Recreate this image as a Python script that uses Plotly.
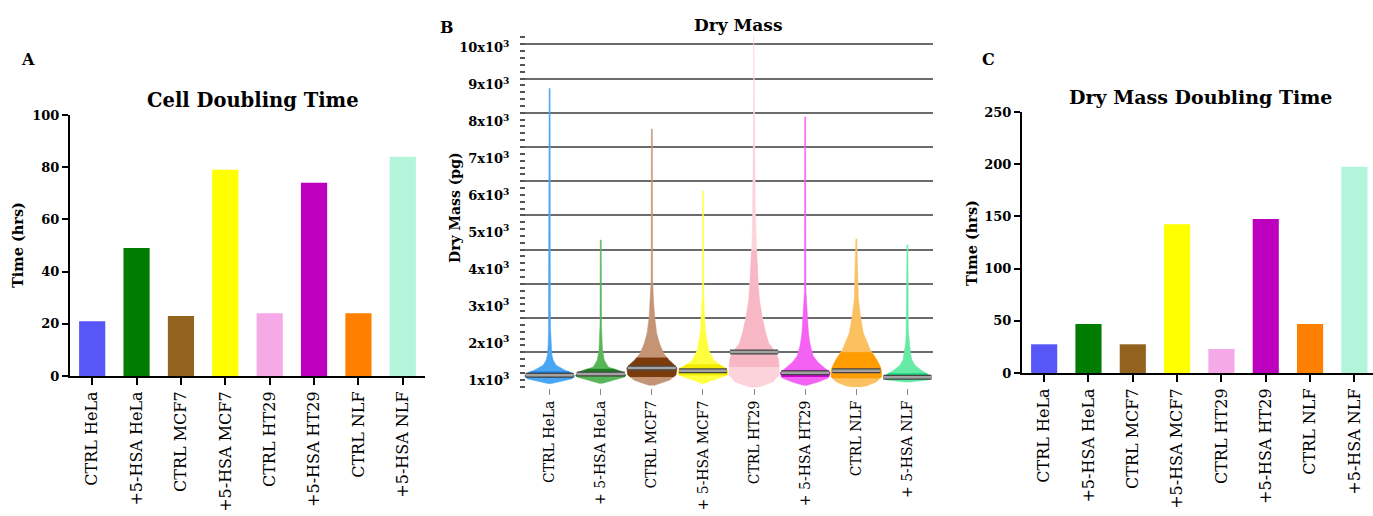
import numpy as np
import plotly.graph_objects as go

# ---------------- data ----------------
bar_labels = ["CTRL HeLa", "+5-HSA HeLa", "CTRL MCF7", "+5-HSA MCF7",
              "CTRL HT29", "+5-HSA HT29", "CTRL NLF", "+5-HSA NLF"]
violin_labels = ["CTRL HeLa", "+ 5-HSA HeLa", "CTRL MCF7", "+ 5-HSA MCF7",
                 "CTRL HT29", "+ 5-HSA HT29", "CTRL NLF", "+ 5-HSA NLF"]

cell_doubling_hrs = [21, 49, 23, 79, 24, 74, 24, 84]
drymass_doubling_hrs = [27.5, 47, 27.5, 142.5, 23, 147.5, 47, 197.5]

bar_colors = ["#5757f8", "#007c00", "#93621f", "#ffff00",
              "#f5a9e6", "#bd00bd", "#ff8000", "#b3f5db"]

# dry mass distributions (pg): levels and relative density
hela_ctrl_mass = [900, 930, 975, 1030, 1110, 1190, 1270, 1400, 1540, 1680, 1950, 2250, 2400, 3000, 6000, 8900]
hela_ctrl_dens = [0.04, 0.2, 0.52, 0.88, 1.0, 0.88, 0.6, 0.26, 0.14, 0.09, 0.06, 0.05, 0.035, 0.028, 0.025, 0.02]
hela_hsa_mass = [905, 920, 1000, 1081, 1135, 1217, 1271, 1352, 1542, 1813, 2100, 2350, 2500, 4794]
hela_hsa_dens = [0.04, 0.12, 0.52, 0.96, 1.0, 0.88, 0.64, 0.3, 0.14, 0.07, 0.05, 0.045, 0.03, 0.02]
mcf7_ctrl_mass = [850, 919, 1000, 1135, 1325, 1407, 1542, 1732, 2000, 2274, 2707, 3168, 3450, 3700, 7800]
mcf7_ctrl_dens = [0.08, 0.4, 0.72, 0.96, 1.0, 0.9, 0.68, 0.46, 0.3, 0.19, 0.11, 0.065, 0.045, 0.03, 0.02]
mcf7_hsa_mass = [900, 973, 1054, 1135, 1252, 1325, 1407, 1542, 1813, 2274, 2707, 3050, 3300, 6122]
mcf7_hsa_dens = [0.04, 0.28, 0.68, 0.96, 1.0, 0.9, 0.68, 0.42, 0.23, 0.11, 0.065, 0.045, 0.03, 0.02]
ht29_ctrl_mass = [800, 810, 946, 1135, 1352, 1596, 1813, 2000, 2274, 2707, 3168, 3630, 4523, 5000, 5690, 7960, 10350]
ht29_ctrl_dens = [0.04, 0.2, 0.76, 1.0, 1.0, 0.96, 0.78, 0.58, 0.46, 0.32, 0.21, 0.16, 0.1, 0.07, 0.045, 0.025, 0.015]
ht29_hsa_mass = [850, 865, 946, 1054, 1198, 1325, 1477, 1650, 1949, 2274, 2707, 3168, 3400, 8127]
ht29_hsa_dens = [0.04, 0.12, 0.52, 0.92, 1.0, 0.78, 0.52, 0.32, 0.2, 0.13, 0.08, 0.045, 0.03, 0.02]
nlf_ctrl_mass = [810, 838, 946, 1081, 1252, 1352, 1542, 1813, 2274, 2707, 3168, 3790, 4400, 4821]
nlf_ctrl_dens = [0.12, 0.4, 0.8, 1.0, 1.0, 0.96, 0.82, 0.56, 0.28, 0.17, 0.085, 0.055, 0.03, 0.02]
nlf_hsa_mass = [940, 960, 1000, 1054, 1100, 1160, 1271, 1400, 1542, 1700, 2000, 2200, 2400, 4658]
nlf_hsa_dens = [0.04, 0.32, 0.8, 0.96, 0.94, 0.8, 0.54, 0.3, 0.18, 0.13, 0.07, 0.055, 0.035, 0.02]

mass_medians = [1127, 1163, 1325, 1252, 1759, 1198, 1252, 1073]
mass_q1 = [1060, 1100, 1080, 1120, 1352, 1080, 1050, 1000]
mass_q3 = [1230, 1300, 1600, 1420, 4500, 1260, 1750, 1180]

mass_ticks = [1000, 2000, 3000, 4000, 5000, 6000, 7000, 8000, 9000, 10000]
mass_ticktext = ["%dx10<sup>3</sup>" % (v // 1000) for v in mass_ticks]

violin_main = ["#4aa6f5", "#58b558", "#c49474", "#ffff40", "#fcd3db", "#f462f4", "#fbc060", "#66eba6"]
violin_iqr = ["#1f80d8", "#1f7f1f", "#7b3b0c", "#f4ec00", "#f8b7c4", "#d000d0", "#ff9d00", "#1ed97f"]

profiles = [(hela_ctrl_mass, hela_ctrl_dens), (hela_hsa_mass, hela_hsa_dens),
            (mcf7_ctrl_mass, mcf7_ctrl_dens), (mcf7_hsa_mass, mcf7_hsa_dens),
            (ht29_ctrl_mass, ht29_ctrl_dens), (ht29_hsa_mass, ht29_hsa_dens),
            (nlf_ctrl_mass, nlf_ctrl_dens), (nlf_hsa_mass, nlf_hsa_dens)]

# ---------------- layout helpers ----------------
W, H = 1373, 516
FONT = "DejaVu Serif"


def px(x):
    return x / W


def py(y):
    return 1 - y / H


fig = go.Figure()

# Panel A bars
fig.add_trace(go.Bar(x=bar_labels, y=cell_doubling_hrs, marker=dict(color=bar_colors, line=dict(width=0)),
                     width=0.59, xaxis="x", yaxis="y", showlegend=False, hoverinfo="x+y"))
# Panel C bars
fig.add_trace(go.Bar(x=bar_labels, y=drymass_doubling_hrs, marker=dict(color=bar_colors, line=dict(width=0)),
                     width=0.59, xaxis="x3", yaxis="y4", showlegend=False, hoverinfo="x+y"))

# Panel B violins
HALF = 0.49
for i, (m, d) in enumerate(profiles):
    m = np.array(m, dtype=float)
    d = np.array(d, dtype=float) * HALF
    xs = np.concatenate([i + d, (i - d)[::-1]])
    ys = np.concatenate([m, m[::-1]])
    fig.add_trace(go.Scatter(x=xs, y=ys, mode="lines", fill="toself", fillcolor=violin_main[i],
                             line=dict(color=violin_main[i], width=0.5), xaxis="x2", yaxis="y2",
                             showlegend=False, hoverinfo="skip"))
    inside = (m > mass_q1[i]) & (m < mass_q3[i])
    mm = np.concatenate([[mass_q1[i]], m[inside], [mass_q3[i]]])
    dd = np.interp(mm, m, d)
    fig.add_trace(go.Scatter(x=np.concatenate([i + dd, (i - dd)[::-1]]), y=np.concatenate([mm, mm[::-1]]),
                             mode="lines", fill="toself", fillcolor=violin_iqr[i],
                             line=dict(color=violin_iqr[i], width=0.4), xaxis="x2", yaxis="y2",
                             showlegend=False, hoverinfo="skip"))
    for col, lw in (("#454545", 5), ("#a3a3a3", 2.5)):
        fig.add_trace(go.Scatter(x=[i - 0.47, i + 0.47], y=[mass_medians[i]] * 2, mode="lines",
                                 line=dict(color=col, width=lw), xaxis="x2", yaxis="y2",
                                 showlegend=False, hoverinfo="skip"))

# dummy trace to activate grid overlay axis
fig.add_trace(go.Scatter(x=[None], y=[None], xaxis="x2", yaxis="y3", showlegend=False, hoverinfo="skip"))

tick_bold = dict(family=FONT, size=13, color="black", weight="bold")
xlab_font = dict(family=FONT, size=16, color="black")
xlab_font_b = dict(family=FONT, size=14, color="black")

fig.update_layout(
    template="none",
    width=W, height=H, autosize=False, margin=dict(l=0, r=0, t=0, b=0, pad=0),
    paper_bgcolor="white", plot_bgcolor="rgba(0,0,0,0)", showlegend=False,
    xaxis=dict(domain=[px(70), px(425)], range=[-0.5, 7.5], showline=True, linecolor="black", linewidth=2,
               ticks="outside", ticklen=7, tickwidth=2, tickcolor="black", tickangle=-90, tickfont=xlab_font,
               showgrid=False, zeroline=False, anchor="y", automargin=False),
    yaxis=dict(domain=[py(376), py(115)], range=[0, 100], tickvals=[0, 20, 40, 60, 80, 100],
               showline=True, linecolor="black", linewidth=2, ticks="outside", ticklen=6, tickwidth=2,
               tickcolor="black", tickfont=tick_bold, showgrid=False, zeroline=False, anchor="x",
               automargin=False),
    xaxis2=dict(domain=[px(520), px(933)], range=[-0.58, 7.5], tickvals=list(range(8)), ticktext=violin_labels,
                ticks="outside", ticklen=6, tickwidth=1.2, tickcolor="#8a8a8a", tickangle=-90, tickfont=xlab_font_b,
                showline=False, showgrid=False, zeroline=False, anchor="y2", automargin=False),
    yaxis2=dict(domain=[py(388), py(32)], range=[783, 10431], tickvals=mass_ticks, ticktext=mass_ticktext,
                ticks="outside", ticklen=7, tickcolor="rgba(0,0,0,0)", tickfont=tick_bold,
                showline=False, showgrid=False, zeroline=False, anchor="x2", automargin=False),
    yaxis3=dict(overlaying="y2", anchor="x2", side="left", range=[-0.043, 10.36],
                tickvals=list(range(1, 11)), showticklabels=False, ticks="inside", ticklen=5,
                tickwidth=1.5, tickcolor="#555555", showgrid=True, gridcolor="#6b6b6b", gridwidth=1.6,
                zeroline=False, showline=False, automargin=False,
                minor=dict(dtick=0.2, tick0=0, ticks="inside", ticklen=5, tickwidth=1.5,
                           tickcolor="#555555", showgrid=False)),
    xaxis3=dict(domain=[px(1022), 1.0], range=[-0.5, 7.42], showline=True, linecolor="black", linewidth=2,
                ticks="outside", ticklen=7, tickwidth=2, tickcolor="black", tickangle=-90, tickfont=xlab_font,
                showgrid=False, zeroline=False, anchor="y4", automargin=False),
    yaxis4=dict(domain=[py(373), py(112)], range=[0, 250], tickvals=[0, 50, 100, 150, 200, 250],
                showline=True, linecolor="black", linewidth=2, ticks="outside", ticklen=6, tickwidth=2,
                tickcolor="black", tickfont=tick_bold, showgrid=False, zeroline=False, anchor="x3",
                automargin=False),
)


def ann(text, x, y, size, angle=0, bold=True):
    fig.add_annotation(text=text, x=px(x), y=py(y), xref="paper", yref="paper", showarrow=False,
                       xanchor="center", yanchor="middle", textangle=angle,
                       font=dict(family=FONT, size=size, color="black", weight="bold" if bold else "normal"))


ann("A", 28, 60, 16)
ann("Cell Doubling Time", 253, 100, 19.5)
ann("Time (hrs)", 18, 245, 14.5, angle=-90)
ann("B", 447, 28, 16)
ann("Dry Mass", 738, 25, 17)
ann("Dry Mass (pg)", 455, 208, 14, angle=-90)
ann("C", 989, 60, 16)
ann("Dry Mass Doubling Time", 1200, 97, 19)
ann("Time (hrs)", 972, 243, 14.5, angle=-90)

fig.write_html("out.html", config={"displayModeBar": False},
               post_script="document.body.style.margin='0px';document.body.style.overflow='hidden';")
